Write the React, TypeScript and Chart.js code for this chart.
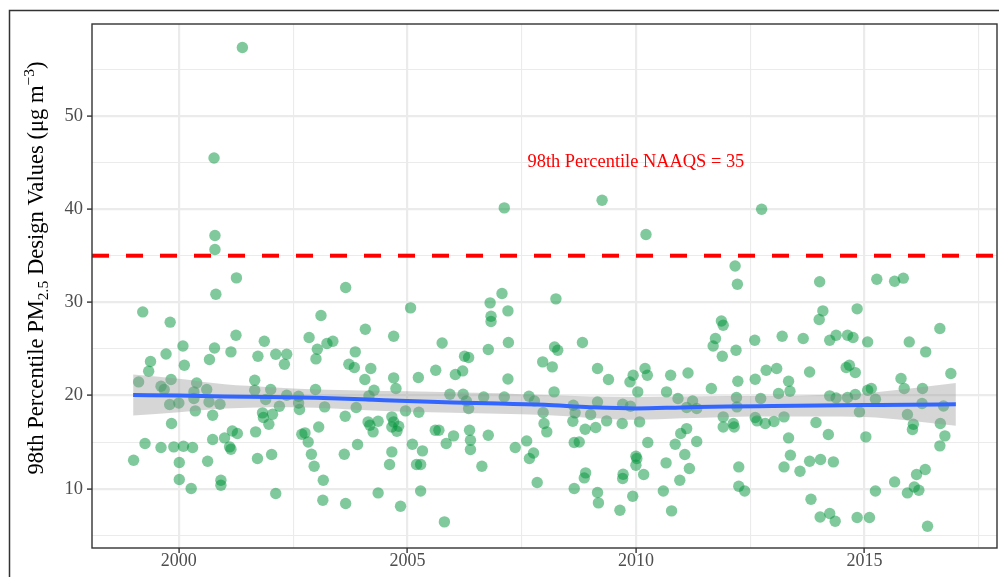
import React, { useEffect, useRef } from 'react';
import { Chart, registerables } from 'chart.js';

Chart.register(...registerables);

// ---- Data: [year, 98th percentile design value] ----
const dv1999to2000 = [
  [1999.01, 13.06], [1999.12, 21.46], [1999.21, 28.97], [1999.26, 14.85], [1999.34, 22.6], [1999.38, 23.65],
  [1999.61, 21.0], [1999.61, 14.42], [1999.68, 20.64], [1999.72, 24.46], [1999.8, 19.03], [1999.81, 27.87],
  [1999.83, 21.72], [1999.84, 17.0], [1999.89, 14.49], [2000.0, 19.2], [2000.01, 12.81], [2000.01, 10.99],
  [2000.09, 25.32], [2000.1, 14.56], [2000.12, 23.25], [2000.27, 10.02], [2000.3, 14.42], [2000.33, 20.39],
  [2000.33, 19.68], [2000.36, 18.35], [2000.39, 21.35], [2000.61, 20.64], [2000.63, 12.95], [2000.66, 19.31],
  [2000.67, 23.86], [2000.74, 17.89], [2000.74, 15.28], [2000.77, 45.49], [2000.78, 25.1], [2000.79, 37.17],
  [2000.79, 35.67], [2000.81, 30.87], [2000.9, 19.07], [2000.92, 10.91], [2000.92, 10.38],
];
const dv2001to2003 = [
  [2001.0, 15.45], [2001.11, 14.49], [2001.14, 14.24], [2001.14, 24.68], [2001.17, 16.2], [2001.25, 26.47],
  [2001.26, 32.62], [2001.28, 15.92], [2001.39, 57.34], [2001.66, 21.64], [2001.66, 20.57], [2001.68, 16.1],
  [2001.72, 13.24], [2001.73, 24.22], [2001.83, 18.14], [2001.85, 17.64], [2001.87, 25.83], [2001.9, 19.57],
  [2001.97, 16.92], [2002.01, 20.64], [2002.03, 13.67], [2002.05, 17.99], [2002.12, 24.43], [2002.12, 9.48],
  [2002.2, 18.85], [2002.31, 23.36], [2002.36, 24.43], [2002.36, 20.03], [2002.62, 19.92], [2002.62, 19.2],
  [2002.64, 18.5], [2002.69, 15.85], [2002.76, 15.99], [2002.83, 15.02], [2002.85, 26.22], [2002.9, 13.7],
  [2002.96, 12.41], [2002.99, 20.64], [2003.0, 23.93], [2003.03, 24.97], [2003.06, 16.63], [2003.11, 28.58],
  [2003.15, 8.77], [2003.16, 10.91], [2003.19, 18.78], [2003.24, 25.58], [2003.37, 25.83],
];
const dv2003to2006 = [
  [2003.62, 13.7], [2003.64, 17.78], [2003.65, 31.59], [2003.65, 8.41], [2003.72, 23.36], [2003.84, 23.0],
  [2003.86, 24.68], [2003.88, 18.71], [2003.91, 14.74], [2004.07, 21.72], [2004.08, 27.11], [2004.14, 17.17],
  [2004.16, 19.96], [2004.18, 16.81], [2004.2, 22.9], [2004.25, 16.1], [2004.27, 20.57], [2004.36, 17.24],
  [2004.36, 9.55], [2004.61, 12.6], [2004.66, 17.71], [2004.66, 16.63], [2004.66, 13.95], [2004.7, 26.36],
  [2004.7, 21.89], [2004.7, 17.17], [2004.75, 20.75], [2004.77, 16.17], [2004.81, 16.71], [2004.85, 8.12],
  [2004.96, 18.35], [2005.07, 29.4], [2005.11, 14.77], [2005.2, 12.6], [2005.24, 21.93], [2005.25, 18.21],
  [2005.29, 12.6], [2005.29, 9.76], [2005.33, 14.06], [2005.61, 16.28], [2005.62, 22.71], [2005.69, 16.28],
  [2005.76, 25.64], [2005.81, 6.44], [2005.85, 14.85], [2005.93, 20.14], [2006.01, 15.67], [2006.05, 22.25],
  [2006.21, 22.64], [2006.22, 20.14], [2006.25, 24.22], [2006.29, 19.42], [2006.34, 24.08], [2006.34, 18.6],
  [2006.36, 16.28], [2006.38, 15.2], [2006.38, 14.2],
];
const dv2006to2008 = [
  [2006.63, 12.41], [2006.67, 19.85], [2006.77, 24.93], [2006.77, 15.74], [2006.81, 29.94], [2006.83, 28.51],
  [2006.83, 27.94], [2007.07, 30.94], [2007.12, 40.13], [2007.12, 19.85], [2007.2, 29.08], [2007.2, 21.78],
  [2007.21, 25.69], [2007.36, 14.42], [2007.61, 15.13], [2007.66, 19.92], [2007.67, 13.24], [2007.76, 13.84],
  [2007.78, 19.42], [2007.84, 10.67], [2007.96, 23.61], [2007.97, 18.18], [2007.99, 17.0], [2008.05, 16.1],
  [2008.17, 23.07], [2008.21, 20.39], [2008.22, 25.21], [2008.25, 30.37], [2008.29, 24.86], [2008.62, 17.24],
  [2008.63, 18.96], [2008.65, 14.96], [2008.65, 10.02], [2008.67, 18.14], [2008.76, 15.02], [2008.83, 25.69],
  [2008.87, 11.16], [2008.89, 16.38], [2008.9, 11.7],
];
const dv2009to2011 = [
  [2009.01, 17.96], [2009.12, 16.57], [2009.16, 22.9], [2009.16, 19.31], [2009.16, 9.6], [2009.18, 8.48],
  [2009.26, 40.95], [2009.36, 17.28], [2009.4, 21.72], [2009.65, 7.69], [2009.7, 17.0], [2009.71, 19.07],
  [2009.71, 11.09], [2009.72, 11.56], [2009.87, 21.46], [2009.88, 18.85], [2009.93, 9.2], [2009.94, 22.18],
  [2010.0, 13.49], [2010.0, 12.52], [2010.02, 13.24], [2010.04, 20.39], [2010.08, 17.17], [2010.17, 11.52],
  [2010.2, 22.9], [2010.22, 37.27], [2010.25, 22.18], [2010.26, 14.96], [2010.6, 9.76], [2010.66, 12.77],
  [2010.67, 20.39], [2010.76, 22.18], [2010.78, 7.62], [2010.86, 14.77], [2010.92, 19.68], [2010.96, 10.91],
  [2010.98, 15.92], [2011.07, 13.67], [2011.11, 18.71], [2011.11, 16.45], [2011.14, 22.42], [2011.17, 12.17],
  [2011.24, 19.42], [2011.33, 18.6], [2011.33, 15.06], [2011.65, 20.75], [2011.69, 25.32], [2011.74, 26.12],
];
const dv2011to2014 = [
  [2011.87, 28.0], [2011.89, 24.22], [2011.91, 27.54], [2011.91, 17.71], [2011.91, 16.63], [2012.13, 17.0],
  [2012.15, 16.63], [2012.17, 33.9], [2012.19, 24.86], [2012.2, 19.78], [2012.21, 18.78], [2012.22, 31.94],
  [2012.23, 21.53], [2012.25, 12.34], [2012.25, 10.27], [2012.38, 9.76], [2012.6, 25.93], [2012.61, 21.75],
  [2012.61, 17.64], [2012.65, 17.28], [2012.73, 19.68], [2012.75, 39.99], [2012.83, 17.0], [2012.85, 22.71],
  [2013.02, 17.21], [2013.08, 22.9], [2013.12, 20.21], [2013.2, 26.36], [2013.24, 17.71], [2013.24, 12.34],
  [2013.34, 21.53], [2013.34, 15.45], [2013.37, 20.46], [2013.38, 13.6], [2013.59, 11.88], [2013.66, 26.11],
  [2013.8, 22.53], [2013.8, 12.95], [2013.83, 8.87], [2013.94, 17.1], [2014.01, 28.15], [2014.02, 32.2],
  [2014.03, 6.97], [2014.04, 13.13], [2014.09, 29.08], [2014.21, 15.82], [2014.24, 25.93], [2014.24, 19.96],
  [2014.24, 7.34], [2014.32, 12.88], [2014.36, 6.51], [2014.38, 26.47], [2014.38, 19.74],
];
const dv2014to2017 = [
  [2014.6, 23.0], [2014.63, 26.47], [2014.63, 19.78], [2014.67, 23.25], [2014.75, 26.22], [2014.8, 22.46],
  [2014.8, 20.11], [2014.84, 29.3], [2014.84, 6.91], [2014.89, 18.24], [2015.03, 15.56], [2015.07, 25.75],
  [2015.07, 20.57], [2015.11, 6.91], [2015.15, 20.75], [2015.24, 19.6], [2015.24, 9.76], [2015.27, 32.48],
  [2015.66, 32.26], [2015.66, 10.73], [2015.8, 21.82], [2015.85, 32.59], [2015.87, 20.75], [2015.94, 17.96],
  [2015.94, 9.55], [2015.98, 25.75], [2016.05, 16.35], [2016.07, 16.92], [2016.09, 10.19], [2016.14, 11.52],
  [2016.19, 9.84], [2016.26, 19.14], [2016.27, 20.75], [2016.33, 12.06], [2016.34, 24.68], [2016.38, 5.98],
  [2016.65, 27.19], [2016.65, 14.6], [2016.66, 17.0], [2016.73, 18.88], [2016.76, 15.67], [2016.89, 22.36],
];

// ---- Smoothed trend (loess) and its confidence band ----
const smoothYears = [1999, 2000, 2001, 2002, 2003, 2004, 2005, 2006, 2007, 2008, 2009, 2010, 2011, 2012, 2013, 2014, 2015, 2016, 2017];
const smoothFit = [20.05, 20.0, 19.9, 19.85, 19.75, 19.6, 19.4, 19.25, 19.15, 19.0, 18.75, 18.62, 18.72, 18.82, 18.87, 18.92, 18.97, 19.02, 19.05];
const smoothLower = [17.85, 18.2, 18.6, 18.75, 18.7, 18.45, 18.25, 18.15, 18.05, 17.9, 17.6, 17.4, 17.55, 17.7, 17.75, 17.75, 17.7, 17.3, 16.75];
const smoothUpper = [22.25, 21.8, 21.2, 20.9, 20.65, 20.55, 20.45, 20.35, 20.25, 20.05, 19.9, 19.85, 19.9, 19.95, 19.95, 20.05, 20.25, 20.75, 21.35];

// ---- Reference line & axes ----
const naaqsValue = 35;
const naaqsLabel = '98th Percentile NAAQS = 35';
const naaqsLabelAt = [2010, 45];
const xTickValues = [2000, 2002.5, 2005, 2007.5, 2010, 2012.5, 2015, 2017.5];
const xMajorTicks = [2000, 2005, 2010, 2015];
const yTickValues = [5, 10, 15, 20, 25, 30, 35, 40, 45, 50, 55];
const yMajorTicks = [10, 20, 30, 40, 50];
const xLimits = [1998.1, 2017.9];
const yLimits = [3.64, 59.86];

const SERIF = '"Liberation Serif", "Times New Roman", serif';

const allPoints = [
  ...dv1999to2000, ...dv2001to2003, ...dv2003to2006, ...dv2006to2008,
  ...dv2009to2011, ...dv2011to2014, ...dv2014to2017,
].map(([x, y]) => ({ x, y }));

const decorPlugin = {
  id: 'decor',
  afterDatasetsDraw(chart: any) {
    const { ctx, scales } = chart;
    ctx.save();
    ctx.font = `18.4px ${SERIF}`;
    ctx.fillStyle = '#FF0000';
    ctx.textAlign = 'center';
    ctx.textBaseline = 'middle';
    ctx.fillText(naaqsLabel, scales.x.getPixelForValue(naaqsLabelAt[0]), scales.y.getPixelForValue(naaqsLabelAt[1]));
    ctx.restore();
  },
  afterDraw(chart: any) {
    const { ctx, chartArea } = chart;
    ctx.save();
    // panel border
    ctx.strokeStyle = '#333333';
    ctx.lineWidth = 1.4;
    ctx.strokeRect(chartArea.left, chartArea.top, chartArea.right - chartArea.left, chartArea.bottom - chartArea.top);
    // outer figure border
    ctx.strokeStyle = '#333333';
    ctx.lineWidth = 1.5;
    ctx.strokeRect(9.5, 10.5, 1200, 1200);

    // y-axis title with sub/superscripts
    const big = `22.6px ${SERIF}`;
    const small = `15.5px ${SERIF}`;
    const segs = [
      { t: '98th Percentile PM', f: big, dy: 0 },
      { t: '2.5', f: small, dy: 5 },
      { t: ' Design Values (\u03BCg m', f: big, dy: 0 },
      { t: '\u22123', f: small, dy: -9 },
      { t: ')', f: big, dy: 0 },
    ];
    let total = 0;
    const widths = segs.map((s) => {
      ctx.font = s.f;
      const w = ctx.measureText(s.t).width;
      total += w;
      return w;
    });
    const centerY = 268;
    ctx.translate(43, centerY + total / 2);
    ctx.rotate(-Math.PI / 2);
    ctx.fillStyle = '#000000';
    ctx.textAlign = 'left';
    ctx.textBaseline = 'alphabetic';
    let x = 0;
    segs.forEach((s, i) => {
      ctx.font = s.f;
      ctx.fillText(s.t, x, s.dy);
      x += widths[i];
    });
    ctx.restore();
  },
};

export default function App() {
  const canvasRef = useRef<HTMLCanvasElement | null>(null);

  useEffect(() => {
    const canvas = canvasRef.current;
    if (!canvas) return;
    const chart = new Chart(canvas, {
      type: 'scatter',
      data: {
        datasets: [
          {
            type: 'line',
            data: [{ x: xLimits[0], y: naaqsValue }, { x: xLimits[1], y: naaqsValue }],
            borderColor: '#FF0000',
            borderWidth: 4,
            borderDash: [17, 17],
            pointRadius: 0,
            fill: false,
          },
          {
            type: 'line',
            data: smoothYears.map((x, i) => ({ x, y: smoothFit[i] })),
            borderColor: '#3366FF',
            borderWidth: 4,
            pointRadius: 0,
            cubicInterpolationMode: 'monotone',
            fill: false,
          },
          {
            type: 'line',
            data: smoothYears.map((x, i) => ({ x, y: smoothUpper[i] })),
            borderWidth: 0,
            borderColor: 'rgba(0,0,0,0)',
            pointRadius: 0,
            cubicInterpolationMode: 'monotone',
            fill: false,
          },
          {
            type: 'line',
            data: smoothYears.map((x, i) => ({ x, y: smoothLower[i] })),
            borderWidth: 0,
            borderColor: 'rgba(0,0,0,0)',
            backgroundColor: 'rgba(153,153,153,0.4)',
            pointRadius: 0,
            cubicInterpolationMode: 'monotone',
            fill: '-1',
          },
          {
            type: 'scatter',
            data: allPoints,
            backgroundColor: 'rgba(0,148,58,0.5)',
            borderWidth: 0,
            pointRadius: 5.7,
            pointHoverRadius: 5.7,
          },
        ],
      },
      options: {
        animation: false,
        responsive: false,
        events: [],
        layout: { autoPadding: false, padding: { top: 24, right: 2, left: 0, bottom: 0 } },
        plugins: { legend: { display: false }, tooltip: { enabled: false }, title: { display: false } },
        scales: {
          x: {
            type: 'linear',
            min: xLimits[0],
            max: xLimits[1],
            afterBuildTicks: (scale: any) => {
              scale.ticks = xTickValues.map((value) => ({ value }));
            },
            afterFit: (scale: any) => {
              scale.height = 29;
            },
            border: { display: false },
            grid: {
              color: '#EBEBEB',
              lineWidth: (c: any) => (c.tick && xMajorTicks.includes(c.tick.value) ? 2.2 : 1.1),
              tickLength: 5,
              tickColor: (c: any) => (c.tick && xMajorTicks.includes(c.tick.value) ? '#333333' : 'rgba(0,0,0,0)'),
              tickWidth: 1.4,
            },
            ticks: {
              padding: -3,
              maxRotation: 0,
              autoSkip: false,
              color: '#4D4D4D',
              font: { family: SERIF, size: 18 },
              callback: (v: any) => (xMajorTicks.includes(Number(v)) ? String(v) : ''),
            },
          },
          y: {
            type: 'linear',
            min: yLimits[0],
            max: yLimits[1],
            afterBuildTicks: (scale: any) => {
              scale.ticks = yTickValues.map((value) => ({ value }));
            },
            afterFit: (scale: any) => {
              scale.width = 92;
            },
            border: { display: false },
            grid: {
              color: '#EBEBEB',
              lineWidth: (c: any) => (c.tick && yMajorTicks.includes(c.tick.value) ? 2.2 : 1.1),
              tickLength: 5,
              tickColor: (c: any) => (c.tick && yMajorTicks.includes(c.tick.value) ? '#333333' : 'rgba(0,0,0,0)'),
              tickWidth: 1.4,
            },
            ticks: {
              padding: 4,
              autoSkip: false,
              color: '#4D4D4D',
              font: { family: SERIF, size: 18.5 },
              callback: (v: any) => (yMajorTicks.includes(Number(v)) ? String(v) : ''),
            },
          },
        },
      },
      plugins: [decorPlugin],
    } as any);
    return () => chart.destroy();
  }, []);

  return (
    <div style={{ position: 'fixed', left: 0, top: 0, width: 999, height: 577, background: '#ffffff' }}>
      <canvas ref={canvasRef} width={999} height={577} style={{ display: 'block' }} />
    </div>
  );
}
